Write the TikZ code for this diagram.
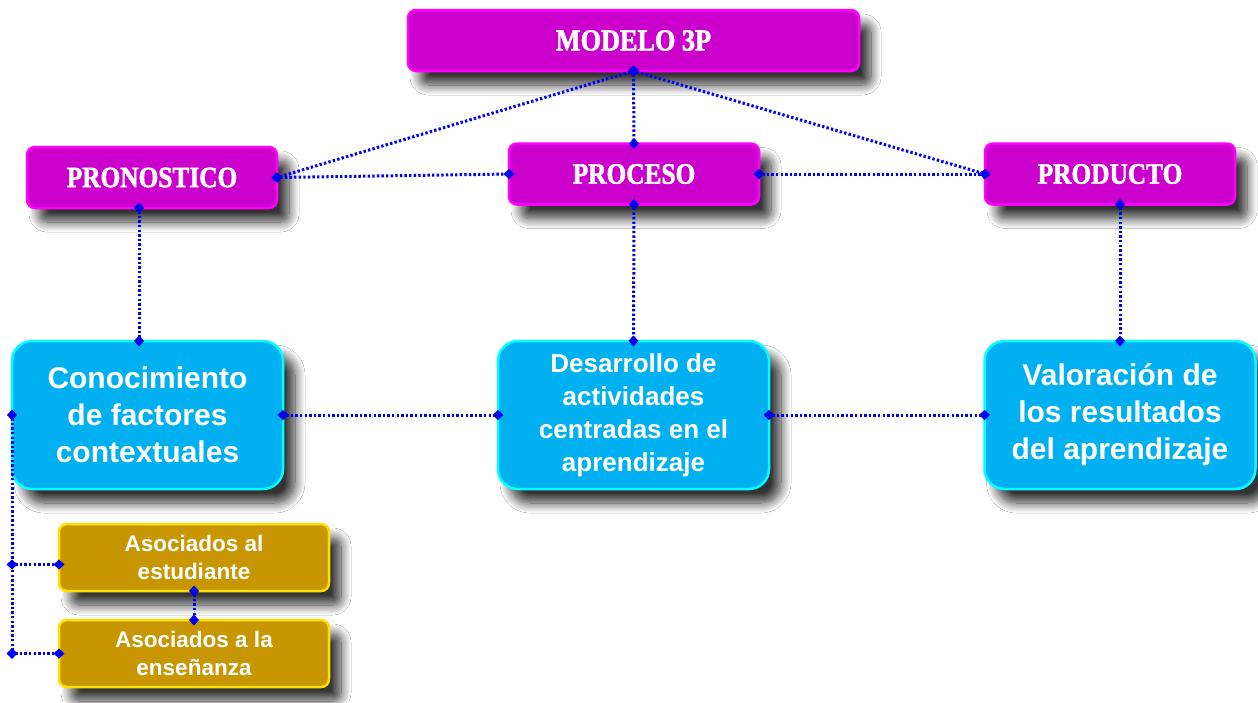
\documentclass[tikz,border=0pt]{standalone}
\usepackage{fontspec}
\setmainfont{Liberation Sans}
\newfontfamily\magfont[FakeStretch=0.86, BoldFeatures={FakeBold=1.8}]{Liberation Serif}
\usetikzlibrary{shadows.blur,arrows.meta,calc}
\definecolor{magdark}{HTML}{CC00CC}
\definecolor{maglight}{HTML}{FF00FF}
\definecolor{cyandark}{HTML}{00B0F0}
\definecolor{cyanlight}{HTML}{00FFFF}
\definecolor{golddark}{HTML}{C89600}
\definecolor{goldlight}{HTML}{FFE000}
\definecolor{linkblue}{HTML}{0000F0}
\tikzset{
  boxbase/.style={text=white, align=center, inner sep=0pt, outer sep=0pt,
    line width=2.5pt,
    blur shadow={shadow xshift=12pt, shadow yshift=-14pt, shadow blur radius=10pt, shadow blur steps=12, shadow opacity=80}},
  magbox/.style={boxbase, fill=magdark, draw=maglight, rounded corners=8pt,
    minimum width=250pt, minimum height=61pt,
    font=\magfont\bfseries\fontsize{29.5}{34}\selectfont},
  cybox/.style={boxbase, fill=cyandark, draw=cyanlight, rounded corners=20pt,
    minimum width=271pt, minimum height=148pt,
    font=\bfseries\fontsize{30}{37}\selectfont},
  goldbox/.style={boxbase, fill=golddark, draw=goldlight, rounded corners=8pt,
    minimum width=270pt, minimum height=67pt,
    font=\bfseries\fontsize{22.5}{28}\selectfont},
  link/.style={draw=linkblue, line width=3pt, dash pattern=on 2.4pt off 2.2pt,
    {Diamond[length=11pt,width=10pt]}-{Diamond[length=11pt,width=10pt]},
    shorten <=-5.5pt, shorten >=-5.5pt}
}
\begin{document}
\begin{tikzpicture}[x=1pt,y=-1pt]
\path[use as bounding box, fill=white] (0,0) rectangle (1258,702);

\node[magbox, minimum width=451pt, font=\magfont\bfseries\fontsize{30.5}{34}\selectfont] (mod) at (633.5,40.5) {MODELO 3P};
\node[magbox] (pron) at (152,177.5) {PRONOSTICO};
\node[magbox] (proc) at (634,174) {PROCESO};
\node[magbox] (prod) at (1110,174) {PRODUCTO};

\node[cybox] (con) at (147.5,415) {Conocimiento\\de factores\\contextuales};
\node[cybox, font=\bfseries\fontsize{26}{33}\selectfont] (des) at (633.5,415) {Desarrollo de\\actividades\\centradas en el\\aprendizaje};
\node[cybox] (val) at (1120,415) {Valoración de\\los resultados\\del aprendizaje};

\node[goldbox] (est) at (194,557.5) {Asociados al\\estudiante};
\node[goldbox] (ens) at (194,653.5) {Asociados a la\\enseñanza};

\coordinate (pronS) at ($(pron.south)+(-13,0)$);
\coordinate (b1) at ($(con.west |- est.west)+(0,7)$);
\coordinate (b2) at (con.west |- ens.west);
\coordinate (estW) at ($(est.west)+(0,7)$);

\draw[link] (mod.south) -- (pron.east);
\draw[link] (mod.south) -- (proc.north);
\draw[link] (mod.south) -- (prod.west);
\draw[link] (pron.east) -- (proc.west);
\draw[link] (proc.east) -- (prod.west);
\draw[link] (pronS) -- (pronS |- con.north);
\draw[link] (proc.south) -- (des.north);
\draw[link] (val.north |- prod.south) -- (val.north);
\draw[link] (con.east) -- (des.west);
\draw[link] (des.east) -- (val.west);
\draw[link] (con.west) -- (b2);
\draw[link] (b1) -- (estW);
\draw[link] (b2) -- (ens.west);
\draw[link] (est.south) -- (ens.north);
\end{tikzpicture}
\end{document}
